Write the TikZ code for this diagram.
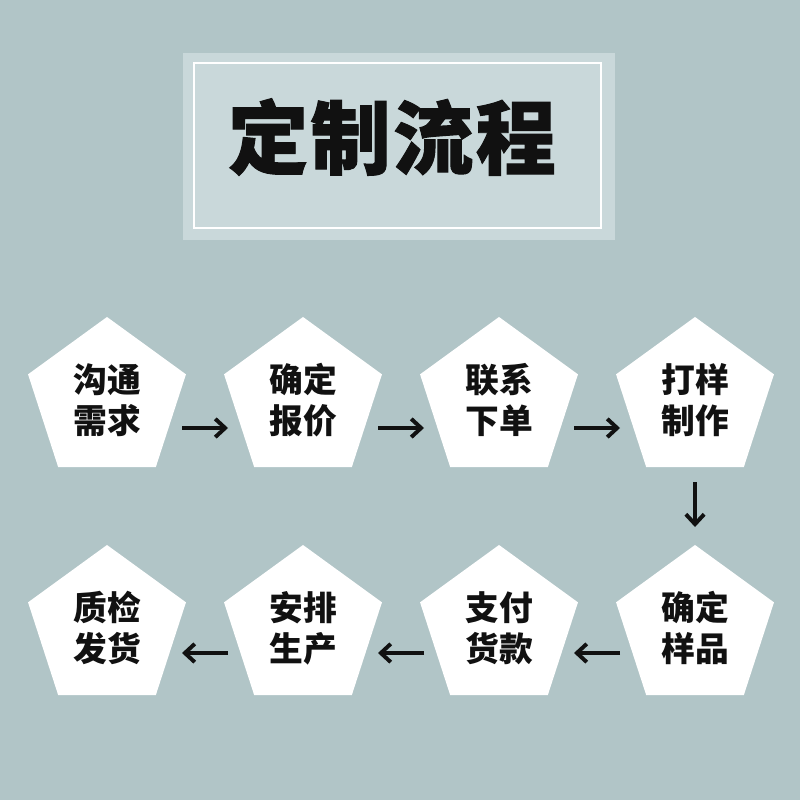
\documentclass[tikz,border=0pt]{standalone}
\usepackage{fontspec}
\newfontfamily\cjk{Noto Sans CJK SC}[BoldFeatures={FakeBold=0}]
\newfontfamily\cjktitle{Noto Sans CJK SC}[BoldFeatures={FakeBold=1.2},LetterSpace=3]
\usepackage{xcolor}
\usepackage{tikz}
\usetikzlibrary{calc,arrows.meta,shapes.geometric}
\definecolor{bgteal}{RGB}{177,197,199}
\definecolor{boxteal}{RGB}{201,216,218}
\definecolor{ink}{RGB}{17,17,17}

\begin{document}
\begin{tikzpicture}[x=0.025cm,y=-0.025cm,
      penta/.style={regular polygon,regular polygon sides=5,minimum size=4.15cm,
        inner sep=0pt,fill=white,text=ink,align=center,
        font=\cjk\bfseries\fontsize{24}{29}\selectfont},
      arr/.style={line width=2.8pt,ink,-{Straight Barb[length=7pt,width=13pt]}}]
      \fill[bgteal] (0,0) rectangle (800,800);
      \useasboundingbox (0,0) rectangle (800,800);
      % title panel
      \fill[boxteal] (183,53) rectangle (615,240);
      \draw[white,line width=1.1pt] (194,63) rectangle (601,228);
      \node[text=ink,font=\cjktitle\bfseries\fontsize{57}{60}\selectfont] (title) at (392,137) {定制流程};
      % steps
      \node[penta] (p1) at (107,400) {沟通\\需求};
      \node[penta] (p2) at (303,400) {确定\\报价};
      \node[penta] (p3) at (499,400) {联系\\下单};
      \node[penta] (p4) at (695,400) {打样\\制作};
      \node[penta] (p5) at (695,628) {确定\\样品};
      \node[penta] (p6) at (499,628) {支付\\货款};
      \node[penta] (p7) at (303,628) {安排\\生产};
      \node[penta] (p8) at (107,628) {质检\\发货};
      \foreach \a/\b in {p1/p2,p2/p3,p3/p4}
        \draw[arr] ($(\a)!.5!(\b)+(-23,28)$) -- ($(\a)!.5!(\b)+(23,28)$);
      \draw[arr] ($(p4)+(0,82)$) -- ($(p5)+(0,-101)$);
      \foreach \a/\b in {p5/p6,p6/p7,p7/p8}
        \draw[arr] ($(\a)!.5!(\b)+(23,25)$) -- ($(\a)!.5!(\b)+(-23,25)$);
\end{tikzpicture}
\end{document}
